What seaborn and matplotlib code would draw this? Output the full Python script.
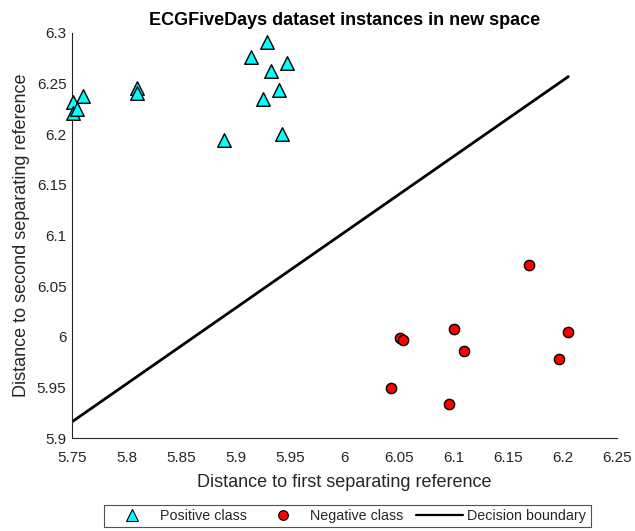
import matplotlib
matplotlib.use("Agg")
import matplotlib.pyplot as plt
from matplotlib.lines import Line2D
import seaborn as sns
import pandas as pd

pos_x = [5.7506, 5.7506, 5.755, 5.760, 5.810, 5.810, 5.889, 5.914, 5.929, 5.933, 5.947, 5.940, 5.925, 5.943]
pos_y = [6.232, 6.221, 6.225, 6.238, 6.246, 6.241, 6.194, 6.276, 6.291, 6.262, 6.270, 6.244, 6.235, 6.200]
neg_x = [6.1696, 6.0509, 6.0533, 6.1005, 6.1094, 6.2054, 6.1965, 6.0430, 6.0963]
neg_y = [6.0709, 5.9988, 5.9965, 6.0074, 5.9857, 6.0050, 5.9783, 5.9494, 5.9336]
line_x = [5.75, 6.2053]
line_y = [5.916, 6.2569]

xticks = [5.75, 5.8, 5.85, 5.9, 5.95, 6.0, 6.05, 6.1, 6.15, 6.2, 6.25]
xtick_labels = ["5.75", "5.8", "5.85", "5.9", "5.95", "6", "6.05", "6.1", "6.15", "6.2", "6.25"]
yticks = [5.9, 5.95, 6.0, 6.05, 6.1, 6.15, 6.2, 6.25, 6.3]
ytick_labels = ["5.9", "5.95", "6", "6.05", "6.1", "6.15", "6.2", "6.25", "6.3"]

sns.set_style("white")
plt.rcParams['font.family'] = ['Liberation Sans', 'DejaVu Sans']
axcol = '#262626'

fig = plt.figure(figsize=(6.35, 5.31), dpi=100)
ax = fig.add_axes([0.1134, 0.1751, 0.9717 - 0.1134, 0.9379 - 0.1751])

pos_df = pd.DataFrame({'x': pos_x, 'y': pos_y})
neg_df = pd.DataFrame({'x': neg_x, 'y': neg_y})
line_df = pd.DataFrame({'x': line_x, 'y': line_y})

sns.lineplot(data=line_df, x='x', y='y', color='black', linewidth=2.0, ax=ax, zorder=1)
sns.scatterplot(data=pos_df, x='x', y='y', marker='^', s=95, color='#00FFFF',
                edgecolor='black', linewidth=1.0, ax=ax, zorder=3, clip_on=False)
sns.scatterplot(data=neg_df, x='x', y='y', marker='o', s=55, color='#FF0000',
                edgecolor='black', linewidth=1.0, ax=ax, zorder=3, clip_on=False)

ax.set_xlim(5.75, 6.25)
ax.set_ylim(5.9, 6.3)
ax.set_xticks(xticks)
ax.set_xticklabels(xtick_labels)
ax.set_yticks(yticks)
ax.set_yticklabels(ytick_labels)
ax.tick_params(direction='in', length=4, width=0.8, colors=axcol, labelsize=11)
ax.tick_params(axis='x', pad=9)
ax.tick_params(axis='y', pad=4)
for s in ['top', 'right']:
    ax.spines[s].set_visible(False)
for s in ['left', 'bottom']:
    ax.spines[s].set_color(axcol)
    ax.spines[s].set_linewidth(0.8)

ax.set_xlabel('Distance to first separating reference', fontsize=13, color=axcol, labelpad=6.5)
ax.set_ylabel('Distance to second separating reference', fontsize=13, color=axcol, labelpad=5)
ax.set_title('ECGFiveDays dataset instances in new space', fontsize=13, fontweight='bold',
             color='black', pad=6)

handles = [
    Line2D([], [], linestyle='none', marker='^', markersize=8, markerfacecolor='#00FFFF',
           markeredgecolor='black', markeredgewidth=0.8, label='Positive class'),
    Line2D([], [], linestyle='none', marker='o', markersize=7, markerfacecolor='#FF0000',
           markeredgecolor='black', markeredgewidth=0.8, label='Negative class'),
    Line2D([], [], color='black', linewidth=1.6, label='Decision boundary'),
]
leg = fig.legend(handles=handles, loc='center', bbox_to_anchor=(0.547, 0.0283), ncol=3,
                 frameon=True, fancybox=False, fontsize=10.3, handlelength=3.3,
                 columnspacing=0.85, handletextpad=0.3, borderpad=0.3, borderaxespad=0.3,
                 edgecolor=axcol)
leg.get_frame().set_linewidth(0.8)

fig.savefig('out.png', dpi=100)
